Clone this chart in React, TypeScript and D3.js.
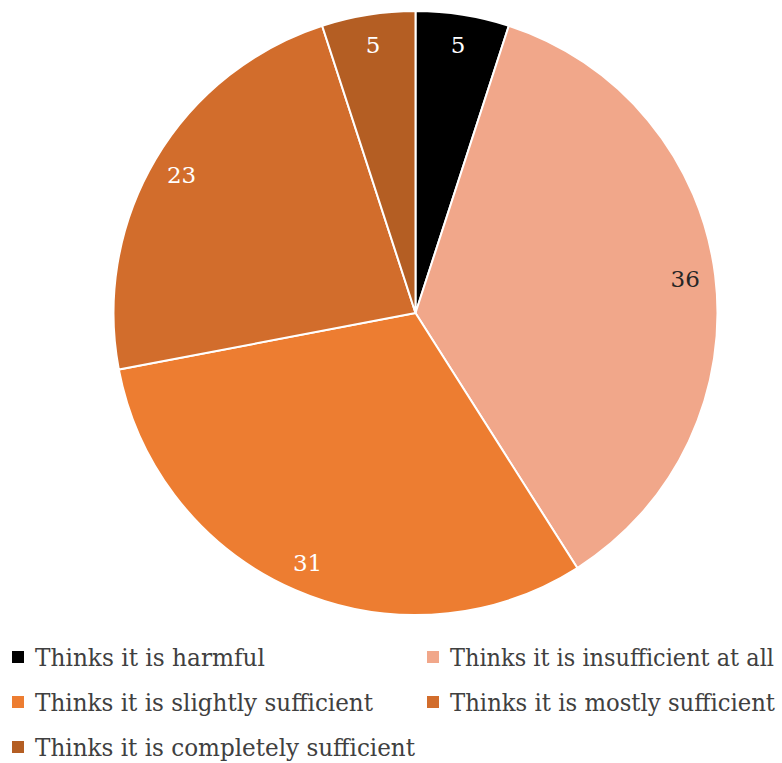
import React from "react";
import * as d3 from "d3";

const categories = [
  "Thinks it is harmful",
  "Thinks it is insufficient at all",
  "Thinks it is slightly sufficient",
  "Thinks it is mostly sufficient",
  "Thinks it is completely sufficient",
];
const values = [5, 36, 31, 23, 5];
const colors = ["#000000", "#F1A78A", "#ED7D31", "#D26D2C", "#B45E23"];
const labelColors = ["#ffffff", "#262626", "#ffffff", "#ffffff", "#ffffff"];
const legendWidths = [230, 324, 338, 325, 380];

export default function App() {
  const W = 782, H = 763;
  const cx = 415.5, cy = 313, R = 302;
  const pie = d3.pie<number>().sort(null).value((d) => d)(values);
  const arc = d3.arc<d3.PieArcDatum<number>>().innerRadius(0).outerRadius(R);
  const labelArc = d3.arc<d3.PieArcDatum<number>>().innerRadius(R * 0.9).outerRadius(R * 0.9);
  const legendPos = [
    [12, 657], [427, 657], [12, 702], [427, 702], [12, 747],
  ];
  return (
    <svg width={W} height={H} style={{ position: "absolute", left: 0, top: 0 }}
      fontFamily="DejaVu Serif, serif">
      <rect width={W} height={H} fill="#fff" />
      <g transform={`translate(${cx},${cy})`}>
        {pie.map((p, i) => (
          <path key={i} d={arc(p) || ""} fill={colors[i]} stroke="#fff" strokeWidth={2} />
        ))}
        {pie.map((p, i) => {
          const [x, y] = labelArc.centroid(p);
          return (
            <text key={i} x={x} y={y} dy="0.36em" textAnchor="middle" fontSize={23}
              fill={labelColors[i]}>{values[i]}</text>
          );
        })}
      </g>
      {categories.map((c, i) => (
        <g key={c} transform={`translate(${legendPos[i][0]},${legendPos[i][1]})`}>
          <rect x={0} y={-6} width={12} height={12} fill={colors[i]} />
          <text x={23} y={0} dy="0.36em" fontSize={24} fill="#404040"
            textLength={legendWidths[i]} lengthAdjust="spacingAndGlyphs">{c}</text>
        </g>
      ))}
    </svg>
  );
}
